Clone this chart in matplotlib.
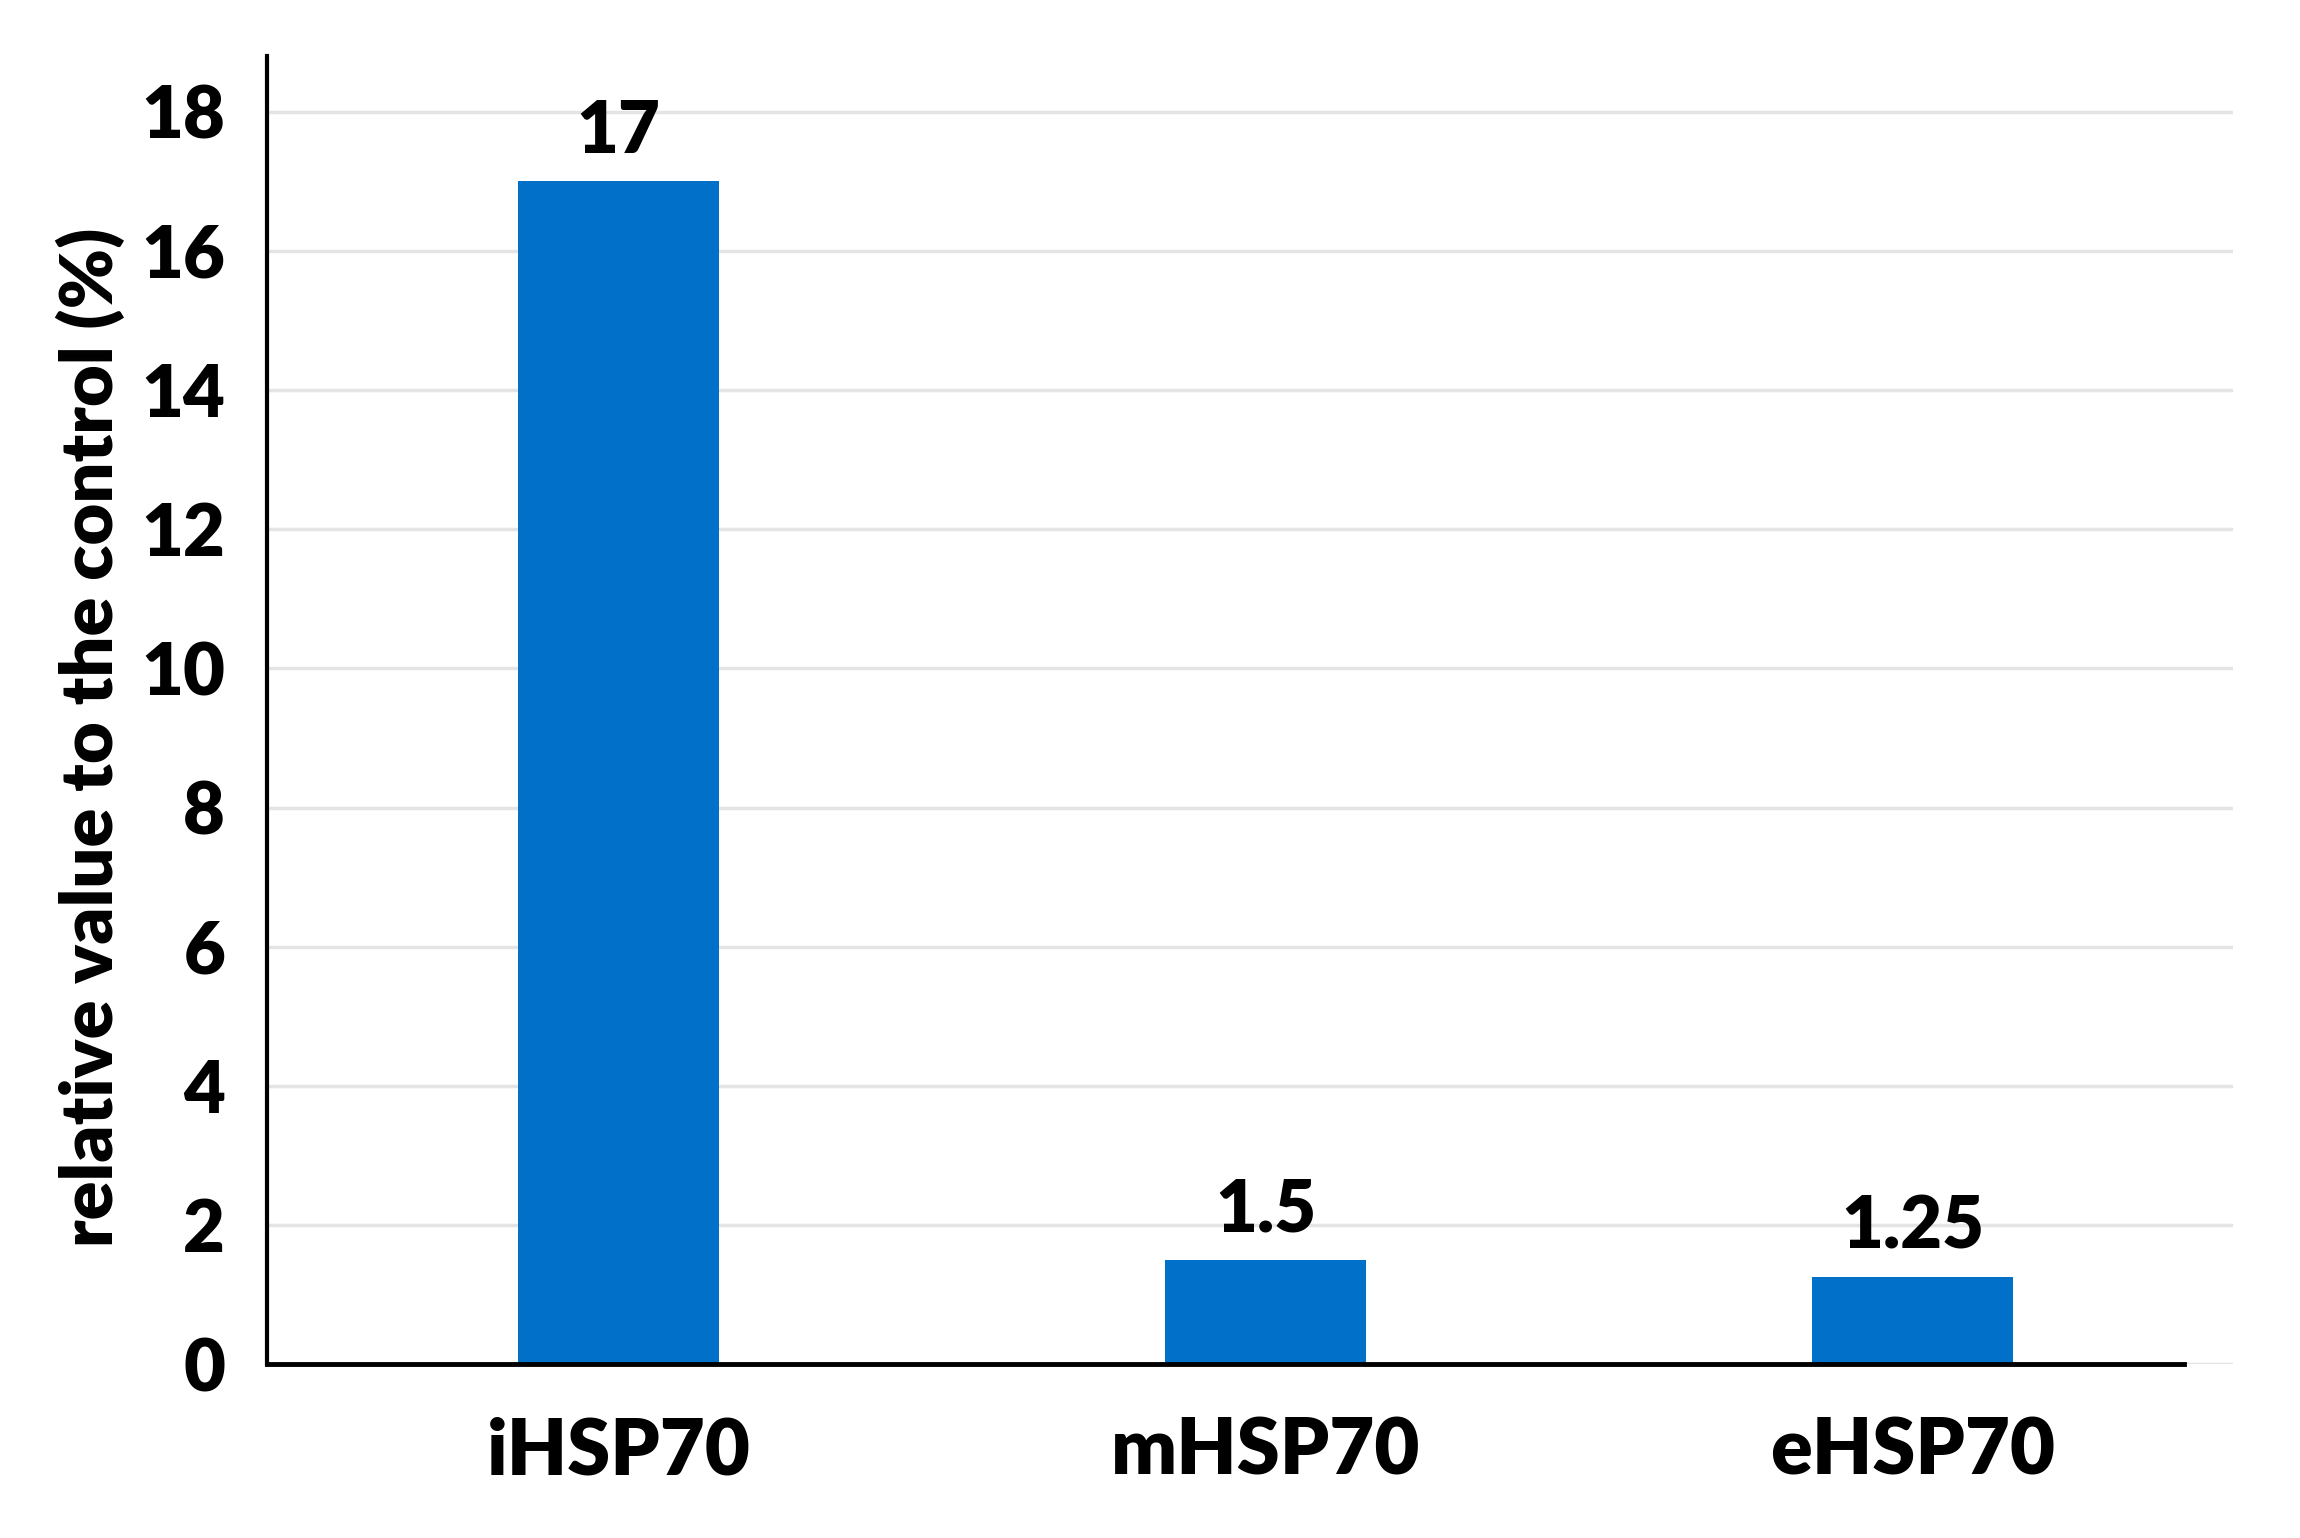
import matplotlib
matplotlib.use('Agg')
import matplotlib.pyplot as plt

plt.rcParams['font.family'] = ['Lato', 'DejaVu Sans']

categories = ['iHSP70', 'mHSP70', 'eHSP70']
values = [17, 1.5, 1.25]
value_labels = ['17', '1.5', '1.25']
yticks = [0, 2, 4, 6, 8, 10, 12, 14, 16, 18]

fig = plt.figure(figsize=(23, 15.38), dpi=100)
ax = fig.add_axes([0.116, 0.113, 0.855, 0.8506])

x = range(len(categories))
ax.bar(x, values, width=0.31, color='#0070c8', zorder=3)

for xi, v, lab in zip(x, values, value_labels):
    ax.annotate(lab, (xi, v), xytext=(0, 12), textcoords='offset points',
                ha='center', va='bottom', fontsize=52, fontweight='heavy')

ax.set_xlim(-0.544, 2.496)
ax.set_ylim(0, 18.8)
ax.set_yticks(yticks)
ax.set_xticks(list(x))
ax.set_xticklabels(categories)
ax.tick_params(axis='y', length=0, labelsize=52, pad=30)
ax.tick_params(axis='x', length=0, labelsize=56, pad=38)
for lab in ax.get_xticklabels() + ax.get_yticklabels():
    lab.set_fontweight('heavy')

ax.grid(axis='y', color='#e4e4e4', linewidth=2.5, zorder=0)
ax.spines['top'].set_visible(False)
ax.spines['right'].set_visible(False)
ax.spines['left'].set_linewidth(3)
ax.spines['bottom'].set_linewidth(3.5)
ax.spines['bottom'].set_bounds(-0.544, 2.42)
ax.spines['left'].set_zorder(4)
ax.spines['bottom'].set_zorder(4)

ax.set_ylabel('relative value to the control (%)', fontsize=52, fontweight='heavy')
ax.yaxis.set_label_coords(-0.072, 0.479)

fig.savefig('out.png', dpi=100)
